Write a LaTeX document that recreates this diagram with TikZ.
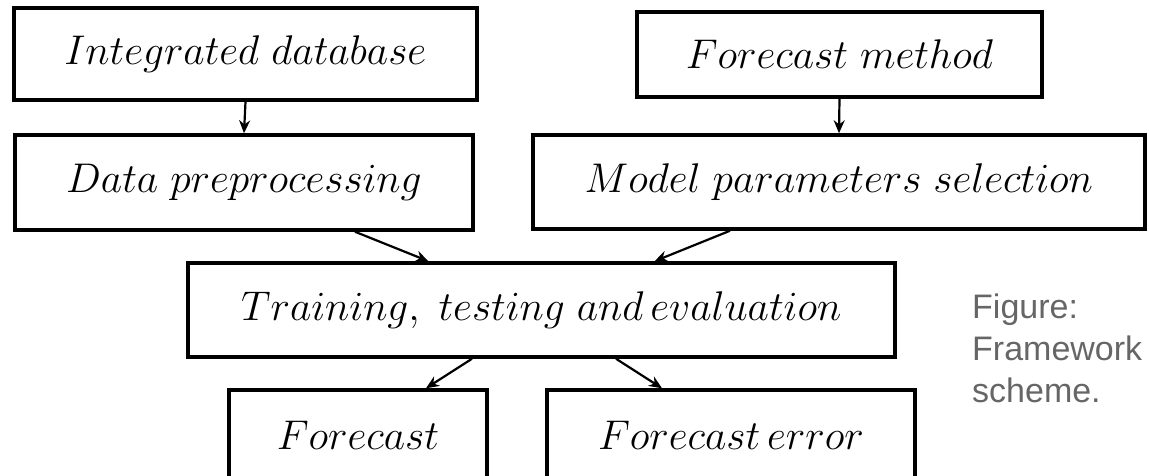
\documentclass[tikz,border=0pt]{standalone}
\usepackage{fontspec}
\newfontfamily\capfont{Liberation Sans}
\usetikzlibrary{arrows.meta}
\definecolor{capgray}{HTML}{666666}
\newcommand{\boxtxt}[1]{\scalebox{2}{\fontsize{20}{24}\selectfont$#1$}}
\tikzset{
  box/.style={draw=black, line width=3.5pt, rectangle, inner sep=0pt},
  link/.style={line width=2.2pt, -{Stealth[length=13pt,width=11pt]}},
  caption/.style={font=\capfont\fontsize{34}{42}\selectfont, text=capgray,
    align=left, inner sep=0pt, anchor=base west}
}
\begin{document}
\begin{tikzpicture}[x=1pt,y=-1pt]
\useasboundingbox (0,0) rectangle (1149,476);
\begin{scope}
\clip (0,0) rectangle (1149,476);
\node[box, minimum width=463pt, minimum height=92pt] (A) at (245.5,54) {\boxtxt{Integrated\ database}};
\node[box, minimum width=458pt, minimum height=95pt] (B) at (244,182.5) {\boxtxt{Data\ preprocessing}};
\node[box, minimum width=405pt, minimum height=85pt] (C) at (839.5,54.5) {\boxtxt{Forecast\ method}};
\node[box, minimum width=612pt, minimum height=94pt] (D) at (839,182) {\boxtxt{Model\ parameters\ selection}};
\node[box, minimum width=707pt, minimum height=94pt] (E) at (541.5,310) {\boxtxt{Training,\ testing\ and\,evaluation}};
\node[box, minimum width=258pt, minimum height=90pt] (F) at (358,435) {\boxtxt{Forecast}};
\node[box, minimum width=368pt, minimum height=90pt] (G) at (731,435) {\boxtxt{Forecast\,error}};
\end{scope}
\draw[link] (A.south) -- (B.north);
\draw[link] (C.south) -- (D.north);
\draw[link] ([xshift=111pt]B.south) -- ([xshift=-113pt]E.north);
\draw[link] ([xshift=-109pt]D.south) -- ([xshift=113pt]E.north);
\draw[link] ([xshift=-69.5pt]E.south) -- ([xshift=68pt]F.north);
\draw[link] ([xshift=74.5pt]E.south) -- ([xshift=-69pt]G.north);
\node[caption] (cap) at (972,402) {Figure:\\Framework\\scheme.};
\end{tikzpicture}
\end{document}
